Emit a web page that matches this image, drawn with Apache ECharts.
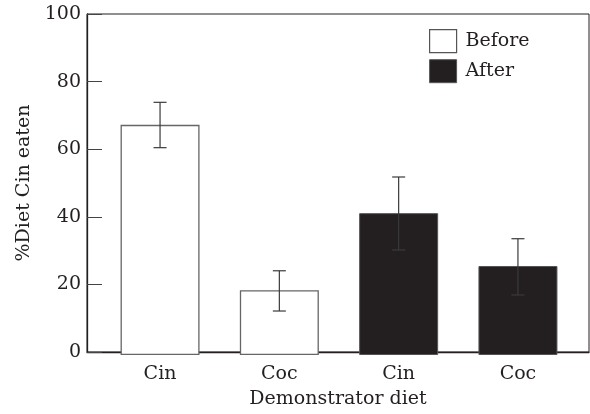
<!DOCTYPE html>
<html><head><meta charset="utf-8">
<script src="https://cdn.jsdelivr.net/npm/echarts@6/dist/echarts.min.js"></script>
<style>html,body{margin:0;padding:0;background:#fff}#c{width:590px;height:414px}</style>
</head><body><div id="c"></div>
<script>
const categories = ['Cin', 'Coc', 'Cin', 'Coc'];
const beforeValues = [67.5, 19.0, null, null];
const afterValues = [null, null, 41.6, 26.1];
const errLow = [60.8, 12.9, 30.8, 17.6];
const errHigh = [74.1, 24.7, 52.2, 34.1];
const yTicks = [0, 20, 40, 60, 80, 100];

const FONT = 'DejaVu Serif';
const FS = 19;
const INK = '#231f20';
const chart = echarts.init(document.getElementById('c'), null, {renderer: 'canvas'});
chart.setOption({
  animation: false,
  backgroundColor: '#fff',
  textStyle: {fontFamily: FONT},
  grid: [
    {left: 87, top: 14, width: 502, height: 341, show: true, borderColor: INK, borderWidth: 1, backgroundColor: 'transparent'},
    {left: 100.4, top: 14, width: 477.2, height: 341}
  ],
  legend: {
    left: 429, top: 29, orient: 'vertical', itemWidth: 27, itemHeight: 23, itemGap: 6, padding: 0,
    icon: 'rect',
    textStyle: {fontFamily: FONT, fontSize: FS, color: INK, padding: [0, 0, 0, 4]},
    data: [
      {name: 'Before', icon: 'rect', itemStyle: {color: '#fff', borderColor: '#555', borderWidth: 1.2}},
      {name: 'After', icon: 'rect', itemStyle: {color: INK, borderColor: '#555', borderWidth: 1}}
    ]
  },
  xAxis: [
    {gridIndex: 0, type: 'category', data: categories, axisLine: {lineStyle: {color: INK, width: 1.3}}, axisTick: {show: false}, axisLabel: {show: false},
     name: 'Demonstrator diet', nameLocation: 'middle', nameGap: 38, nameTextStyle: {fontFamily: FONT, fontSize: FS, color: INK}},
    {gridIndex: 1, type: 'category', data: categories, axisLine: {show: false}, axisTick: {show: false},
     axisLabel: {fontFamily: FONT, fontSize: FS, color: INK, margin: 10}}
  ],
  yAxis: [
    {gridIndex: 0, type: 'value', min: 0, max: 100, interval: 20,
     axisLine: {show: true, lineStyle: {color: INK, width: 1.3}},
     axisTick: {show: true, inside: true, length: 15, lineStyle: {color: '#444'}},
     splitLine: {show: false},
     axisLabel: {fontFamily: FONT, fontSize: FS, color: INK, margin: 6, formatter: v => yTicks.includes(v) ? String(v) : ''},
     name: '%Diet Cin eaten', nameLocation: 'middle', nameGap: 48, nameRotate: 90,
     nameTextStyle: {fontFamily: FONT, fontSize: FS, color: INK}},
    {gridIndex: 1, type: 'value', min: 0, max: 100, show: false, splitLine: {show: false}}
  ],
  series: [
    {name: 'Before', type: 'bar', xAxisIndex: 1, yAxisIndex: 1, data: beforeValues, barWidth: 79, barGap: '-100%',
     itemStyle: {color: '#fff', borderColor: '#666', borderWidth: 1.3}},
    {name: 'After', type: 'bar', xAxisIndex: 1, yAxisIndex: 1, data: afterValues, barWidth: 79, barGap: '-100%',
     itemStyle: {color: INK, borderColor: '#555', borderWidth: 1}},
    {type: 'custom', xAxisIndex: 1, yAxisIndex: 1, z: 10,
     data: categories.map((c, i) => [i, errLow[i], errHigh[i]]),
     renderItem: function (params, api) {
       const lo = api.coord([api.value(0), api.value(1)]);
       const hi = api.coord([api.value(0), api.value(2)]);
       const x = lo[0], hw = 6.5;
       const st = {stroke: '#3a3a3a', lineWidth: 1.2};
       return {type: 'group', children: [
         {type: 'line', shape: {x1: x, y1: lo[1], x2: x, y2: hi[1]}, style: st},
         {type: 'line', shape: {x1: x - hw, y1: lo[1], x2: x + hw, y2: lo[1]}, style: st},
         {type: 'line', shape: {x1: x - hw, y1: hi[1], x2: x + hw, y2: hi[1]}, style: st}
       ]};
     }}
  ]
});
</script></body></html>
